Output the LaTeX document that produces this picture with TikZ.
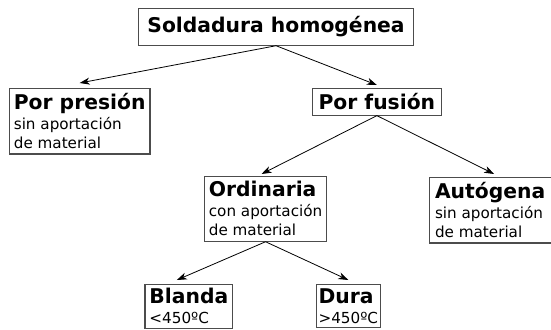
\documentclass[tikz,border=0pt]{standalone}
\usepackage{fontspec}
\setmainfont{DejaVu Sans}
\usetikzlibrary{arrows.meta}

\newcommand{\encab}[1]{{\fontsize{20.3}{20}\selectfont\bfseries #1}}
\newcommand{\cuerpo}{\fontsize{15.2}{19}\selectfont}

\begin{document}
\begin{tikzpicture}[x=1pt,y=-1pt,
    caja/.style={draw=black!70,line width=1.1pt,anchor=north west,align=left,
                 inner xsep=4.5pt,inner ysep=5pt,font=\cuerpo},
    flecha/.style={line width=0.8pt,-{Stealth[length=10pt,width=7pt,inset=3pt]}}]
    \useasboundingbox (0,0) rectangle (551,329);

    \node[caja,minimum width=275pt,inner ysep=8pt] (sold) at (138,8) {\encab{Soldadura homogénea}};
    \node[caja] (pres) at (8.8,88) {\encab{Por presión}\\[1pt]sin aportación\\de material};
    \node[caja,inner xsep=6pt] (fus) at (312,88) {\encab{Por fusión}};
    \node[caja] (ord) at (203.8,176) {\encab{Ordinaria}\\[1pt]con aportación\\de material};
    \node[caja,minimum width=122pt] (aut) at (428.6,177) {\encab{Autógena}\\[1pt]sin aportación\\de material};
    \node[caja,inner ysep=4pt] (bla) at (144.4,284) {\encab{Blanda}\\[1pt]<450ºC};
    \node[caja,inner ysep=4pt,inner xsep=2.5pt] (dur) at (315.5,284) {\encab{Dura}\\[1pt]>450ºC};

    % flechas
    \draw[flecha] (sold.south) -- ([yshift=5pt]pres.north);
    \draw[flecha] (sold.south) -- ([yshift=3pt]fus.north);
    \draw[flecha] (fus.south) -- ([xshift=-4pt,yshift=2pt]ord.north);
    \draw[flecha] (fus.south) -- ([xshift=4pt,yshift=3pt]aut.north);
    \draw[flecha] (ord.south) -- ([xshift=-12pt,yshift=4pt]bla.north);
    \draw[flecha] (ord.south) -- ([yshift=4pt]dur.north);
\end{tikzpicture}
\end{document}
